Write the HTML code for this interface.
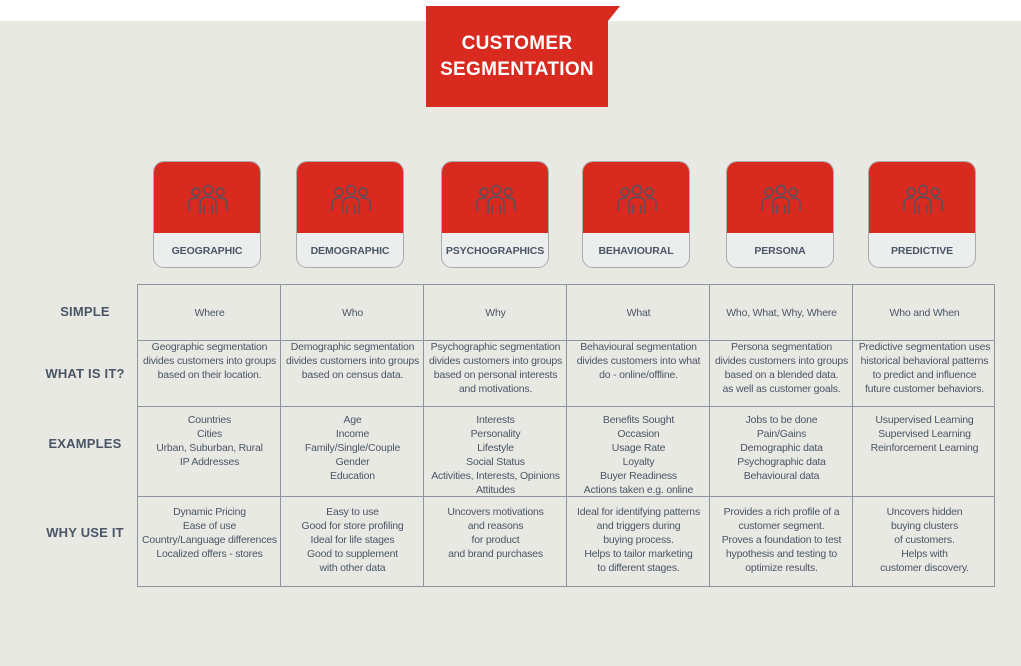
<!DOCTYPE html>
<html><head><meta charset="utf-8"><style>
*{margin:0;padding:0;box-sizing:border-box}
body{width:1021px;height:666px;background:#e9e9e4;position:relative;overflow:hidden;font-family:"Liberation Sans",sans-serif;color:#4a5565}
.top{position:absolute;left:0;top:0;width:1021px;height:21px;background:#fff}
.title{position:absolute;left:426px;top:6px;width:182px;height:101px;background:#d92a20;color:#fff;font-weight:bold;font-size:19px;line-height:26px;text-align:center;padding-top:25px;letter-spacing:0.3px}
.fold{position:absolute;left:608px;top:6px;width:0;height:0;border-left:12px solid #d92a20;border-bottom:15px solid transparent}
.card{position:absolute;top:161px;width:108px;height:107px;border:1px solid #a9acaf;border-radius:11px;overflow:hidden;background:#eceeed}
.card .r{height:71px;background:#d92a20;position:relative}
.card .r svg{position:absolute;left:32px;top:22px}
.card .l{text-align:center;font-size:10.5px;font-weight:bold;line-height:36px;letter-spacing:-0.1px}
.tbl{position:absolute;left:137px;top:284px;width:858px;height:303px;border:1px solid #8b959e}
.v{position:absolute;top:0;width:1px;height:301px;background:#8b959e}
.h{position:absolute;left:0;width:856px;height:1px;background:#8b959e}
.c{position:absolute;width:143px;text-align:center;font-size:10.5px;line-height:14px;letter-spacing:-0.2px}
.lab{position:absolute;width:120px;left:25px;text-align:center;font-size:13px;font-weight:bold;letter-spacing:0.2px}
</style></head><body>
<div class="top"></div>
<div class="title">CUSTOMER<br>SEGMENTATION</div>
<div class="fold"></div>

<svg width="0" height="0" style="position:absolute"><defs><g id="ppl" fill="none" stroke="#4a5565" stroke-width="1.4"><circle cx="10" cy="8" r="4"/><circle cx="22" cy="6" r="4.5"/><circle cx="34" cy="8" r="4"/><path d="M3 27v-8c0-3 3-5 6-5h3M41 27v-8c0-3-3-5-6-5h-3M14 30V19c0-4 4-6 8-6s8 2 8 6v11M18 30v-9M26 30v-9"/></g></defs></svg>

<div class="card" style="left:153px"><div class="r"><svg width="46" height="32"><use href="#ppl"/></svg></div><div class="l">GEOGRAPHIC</div></div>
<div class="card" style="left:296px"><div class="r"><svg width="46" height="32"><use href="#ppl"/></svg></div><div class="l">DEMOGRAPHIC</div></div>
<div class="card" style="left:441px"><div class="r"><svg width="46" height="32"><use href="#ppl"/></svg></div><div class="l">PSYCHOGRAPHICS</div></div>
<div class="card" style="left:582px"><div class="r"><svg width="46" height="32"><use href="#ppl"/></svg></div><div class="l">BEHAVIOURAL</div></div>
<div class="card" style="left:726px"><div class="r"><svg width="46" height="32"><use href="#ppl"/></svg></div><div class="l">PERSONA</div></div>
<div class="card" style="left:868px"><div class="r"><svg width="46" height="32"><use href="#ppl"/></svg></div><div class="l">PREDICTIVE</div></div>

<div class="lab" style="top:304px">SIMPLE</div>
<div class="lab" style="top:366px">WHAT IS IT?</div>
<div class="lab" style="top:436px">EXAMPLES</div>
<div class="lab" style="top:525px">WHY USE IT</div>

<div class="tbl">
<div class="v" style="left:142px"></div><div class="v" style="left:285px"></div><div class="v" style="left:428px"></div><div class="v" style="left:571px"></div><div class="v" style="left:714px"></div>
<div class="h" style="top:55px"></div><div class="h" style="top:121px"></div><div class="h" style="top:211px"></div>

<div class="c" style="left:0;top:21px">Where</div>
<div class="c" style="left:143px;top:21px">Who</div>
<div class="c" style="left:286px;top:21px">Why</div>
<div class="c" style="left:429px;top:21px">What</div>
<div class="c" style="left:572px;top:21px">Who, What, Why, Where</div>
<div class="c" style="left:715px;top:21px">Who and When</div>

<div class="c" style="left:0;top:55px">Geographic segmentation<br>divides customers into groups<br>based on their location.</div>
<div class="c" style="left:143px;top:55px">Demographic segmentation<br>divides customers into groups<br>based on census data.</div>
<div class="c" style="left:286px;top:55px">Psychographic segmentation<br>divides customers into groups<br>based on personal interests<br>and motivations.</div>
<div class="c" style="left:429px;top:55px">Behavioural segmentation<br>divides customers into what<br>do - online/offline.</div>
<div class="c" style="left:572px;top:55px">Persona segmentation<br>divides customers into groups<br>based on a blended data.<br>as well as customer goals.</div>
<div class="c" style="left:715px;top:55px">Predictive segmentation uses<br>historical behavioral patterns<br>to predict and influence<br>future customer behaviors.</div>

<div class="c" style="left:0;top:128px">Countries<br>Cities<br>Urban, Suburban, Rural<br>IP Addresses</div>
<div class="c" style="left:143px;top:128px">Age<br>Income<br>Family/Single/Couple<br>Gender<br>Education</div>
<div class="c" style="left:286px;top:128px">Interests<br>Personality<br>Lifestyle<br>Social Status<br>Activities, Interests, Opinions<br>Attitudes</div>
<div class="c" style="left:429px;top:128px">Benefits Sought<br>Occasion<br>Usage Rate<br>Loyalty<br>Buyer Readiness<br>Actions taken e.g. online</div>
<div class="c" style="left:572px;top:128px">Jobs to be done<br>Pain/Gains<br>Demographic data<br>Psychographic data<br>Behavioural data</div>
<div class="c" style="left:715px;top:128px">Usupervised Learning<br>Supervised Learning<br>Reinforcement Learning</div>

<div class="c" style="left:0;top:220px">Dynamic Pricing<br>Ease of use<br>Country/Language differences<br>Localized offers - stores</div>
<div class="c" style="left:143px;top:220px">Easy to use<br>Good for store profiling<br>Ideal for life stages<br>Good to supplement<br>with other data</div>
<div class="c" style="left:286px;top:220px">Uncovers motivations<br>and reasons<br>for product<br>and brand purchases</div>
<div class="c" style="left:429px;top:220px">Ideal for identifying patterns<br>and triggers during<br>buying process.<br>Helps to tailor marketing<br>to different stages.</div>
<div class="c" style="left:572px;top:220px">Provides a rich profile of a<br>customer segment.<br>Proves a foundation to test<br>hypothesis and testing to<br>optimize results.</div>
<div class="c" style="left:715px;top:220px">Uncovers hidden<br>buying clusters<br>of customers.<br>Helps with<br>customer discovery.</div>
</div>
</body></html>
